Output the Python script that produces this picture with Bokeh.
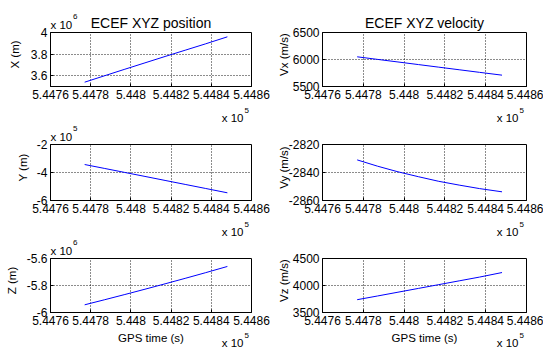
import math
from bokeh.plotting import figure
from bokeh.models import Range1d, FixedTicker, Label, GridBox
from bokeh.embed import file_html
from bokeh.resources import INLINE

# ---------------- data ----------------
gps_time = [544777, 544787, 544797, 544807, 544817, 544827, 544837, 544848]

pos_x = [3.540e6, 3.600e6, 3.660e6, 3.719e6, 3.778e6, 3.836e6, 3.894e6, 3.960e6]
pos_y = [-3.430e5, -3.713e5, -3.997e5, -4.281e5, -4.566e5, -4.851e5, -5.136e5, -5.450e5]
pos_z = [-5.9430e6, -5.9052e6, -5.8667e6, -5.8275e6, -5.7876e6, -5.7470e6, -5.7057e6, -5.6590e6]

vel_x = [6050, 6002, 5954, 5906, 5858, 5810, 5762, 5710]
vel_y = [-2831.0, -2835.5, -2839.5, -2843.0, -2846.3, -2849.0, -2851.5, -2853.8]
vel_z = [3737, 3806, 3876, 3946, 4016, 4086, 4156, 4240]

x_ticks = [544760, 544780, 544800, 544820, 544840, 544860]
x_tick_labels = ["5.4476", "5.4478", "5.448", "5.4482", "5.4484", "5.4486"]
x_exponent = "5"

pos_x_range = [3.5e6, 4.0e6]
pos_x_ticks = [3.6e6, 3.8e6, 4.0e6]
pos_x_labels = ["3.6", "3.8", "4"]
pos_y_range = [-6e5, -2e5]
pos_y_ticks = [-6e5, -4e5, -2e5]
pos_y_labels = ["-6", "-4", "-2"]
pos_z_range = [-6.0e6, -5.6e6]
pos_z_ticks = [-6.0e6, -5.8e6, -5.6e6]
pos_z_labels = ["-6", "-5.8", "-5.6"]
vel_x_range = [5500, 6500]
vel_x_ticks = [5500, 6000, 6500]
vel_x_labels = ["5500", "6000", "6500"]
vel_y_range = [-2860, -2820]
vel_y_ticks = [-2860, -2840, -2820]
vel_y_labels = ["-2860", "-2840", "-2820"]
vel_z_range = [3500, 4500]
vel_z_ticks = [3500, 4000, 4500]
vel_z_labels = ["3500", "4000", "4500"]

titles = ["ECEF XYZ position", "ECEF XYZ velocity"]
y_names = [["X (m)", "Vx (m/s)"], ["Y (m)", "Vy (m/s)"], ["Z (m)", "Vz (m/s)"]]
y_exponents = ["6", "5", "6"]
x_name = "GPS time (s)"

panels = [
    [(pos_x, pos_x_range, pos_x_ticks, pos_x_labels), (vel_x, vel_x_range, vel_x_ticks, vel_x_labels)],
    [(pos_y, pos_y_range, pos_y_ticks, pos_y_labels), (vel_y, vel_y_range, vel_y_ticks, vel_y_labels)],
    [(pos_z, pos_z_range, pos_z_ticks, pos_z_labels), (vel_z, vel_z_range, vel_z_ticks, vel_z_labels)],
]

# ---------------- layout / style ----------------
FONT = "Liberation Sans"
W, H = 543, 349
frame_x = [50, 322]
frame_w = [201, 204]
frame_y = [32, 144, 258]
frame_h = [54, 56, 54]
col_w = [270, 273]
row_h = [115, 114, 120]
col_x0 = [0, 270]
row_y0 = [0, 115, 229]
ylabel_cx = [[14, 283], [22, 283], [11, 283]]
xexp_below = [31, 31, 30]

children = []
for r in range(3):
    for c in range(2):
        vals, yr, yt, yl = panels[r][c]
        left = frame_x[c] - col_x0[c]
        right = col_w[c] - left - frame_w[c]
        top = frame_y[r] - row_y0[r]
        bottom = row_h[r] - top - frame_h[r]
        p = figure(width=col_w[c], height=row_h[r], output_backend="svg",
                   toolbar_location=None, tools="",
                   x_range=Range1d(x_ticks[0], x_ticks[-1]),
                   y_range=Range1d(yr[0], yr[1]),
                   min_border_left=left, min_border_right=right,
                   min_border_top=top, min_border_bottom=bottom,
                   background_fill_color="white", border_fill_color="white")
        p.title.visible = False
        p.outline_line_color = "black"
        p.outline_line_alpha = 1.0
        p.line(gps_time, vals, line_color="#0000ff", line_width=1)

        p.xaxis.ticker = FixedTicker(ticks=x_ticks)
        p.xaxis.major_label_overrides = dict(zip(x_ticks, x_tick_labels))
        p.yaxis.ticker = FixedTicker(ticks=yt)
        p.yaxis.major_label_overrides = dict(zip(yt, yl))
        for ax in (p.xaxis[0], p.yaxis[0]):
            ax.major_tick_in = 3
            ax.major_tick_out = 0
            ax.minor_tick_line_color = None
            ax.axis_line_color = "black"
            ax.major_tick_line_color = "black"
            ax.major_label_text_font = FONT
            ax.major_label_text_font_size = "12px"
            ax.major_label_text_color = "black"
            ax.major_label_standoff = 3
        p.grid.grid_line_color = "black"
        p.grid.grid_line_dash = "1 2"
        p.grid.grid_line_alpha = 0.9
        # subplots sit in grid cells 1..3 x 1..2 (outer cells are empty)
        children.append((p, r + 1, c + 1))

# transparent overlay (spanning the whole page) carrying the free texts
ov = figure(width=W, height=H, output_backend="svg", toolbar_location=None, tools="",
            x_range=Range1d(0, W), y_range=Range1d(0, H),
            x_axis_location=None, y_axis_location=None,
            min_border=0, min_border_left=0, min_border_right=0,
            min_border_top=0, min_border_bottom=0,
            background_fill_color=None, border_fill_color=None)
ov.title.visible = False
ov.outline_line_color = None
ov.xgrid.visible = False
ov.ygrid.visible = False


def txt(x, y, text, size, align="left", baseline="alphabetic", angle=0.0):
    ov.add_layout(Label(x=x, y=H - y, x_units="screen", y_units="screen", text=text,
                        text_font=FONT, text_font_size=size, text_color="black",
                        text_align=align, text_baseline=baseline, angle=angle))


for c in range(2):
    cx = frame_x[c] + frame_w[c] / 2
    txt(cx, frame_y[0] - 10, titles[c], "14px", align="center")
    txt(cx, 337, x_name, "11.5px", align="center")
    for r in range(3):
        fb = frame_y[r] + frame_h[r]
        fr = frame_x[c] + frame_w[c]
        txt(fr - 8, fb + xexp_below[r], "x 10", "11.5px", align="right")
        txt(fr - 7, fb + xexp_below[r] - 7, x_exponent, "8px")
        txt(ylabel_cx[r][c], frame_y[r] + frame_h[r] / 2 - 5, y_names[r][c], "11.5px",
            align="center", baseline="middle", angle=math.pi / 2)
for r in range(3):
    txt(frame_x[0], frame_y[r] - 8, "x 10", "11.5px")
    txt(frame_x[0] + 22.5, frame_y[r] - 16, y_exponents[r], "8px")

children.append((ov, 0, 0, 5, 4))
layout = GridBox(children=children, spacing=0)
open("out.html", "w").write(file_html(layout, INLINE))
